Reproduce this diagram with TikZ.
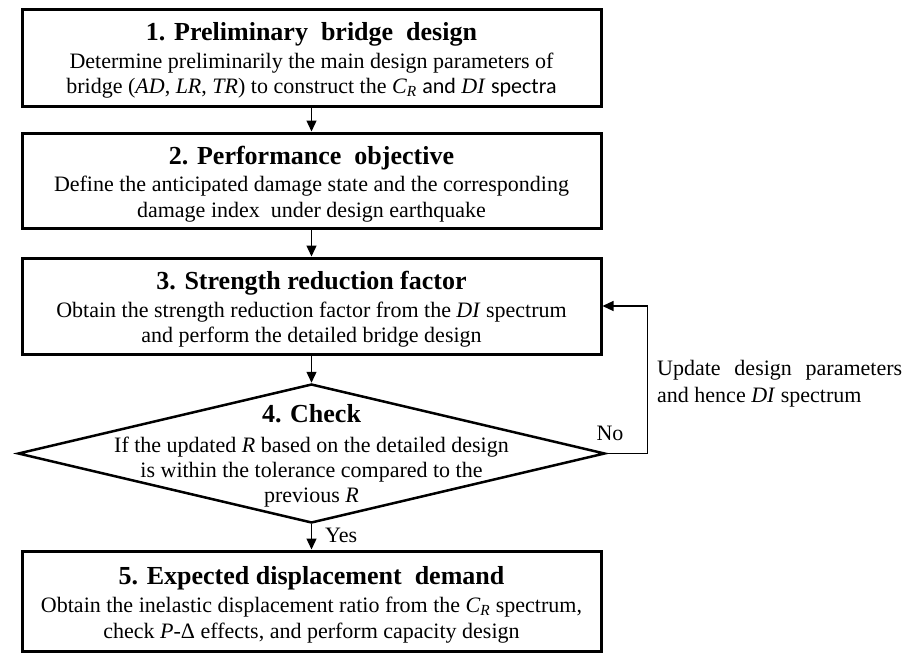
\documentclass[tikz,border=0pt]{standalone}
\usepackage{fontspec}
\setmainfont{Liberation Serif}
\newfontfamily\calfont{Carlito}
\usetikzlibrary{shapes.geometric,arrows.meta,calc}
\newcommand{\vi}[1]{\textit{#1}}
\newcommand{\CR}{\textit{C}\textsubscript{\textit{R}}}
\begin{document}
\begin{tikzpicture}[x=1pt,y=-1pt,
  box/.style={draw, line width=3pt, minimum width=579pt, inner sep=0pt},
  ttl/.style={anchor=base, font=\fontsize{26}{30}\selectfont\bfseries, inner sep=0pt},
  txt/.style={anchor=base, font=\fontsize{22}{26}\selectfont, inner sep=0pt},
  arr/.style={line width=1.3pt, -{Triangle[length=11pt,width=10pt]}},
  fbarr/.style={line width=1.2pt, -{Triangle[length=11pt,width=10pt]}}]
\useasboundingbox (0,0) rectangle (907,653);

% boxes
\node[box, minimum height=97pt] (b1) at (311.5,57.5) {};
\node[box, minimum height=95pt] (b2) at (311.5,180.5) {};
\node[box, minimum height=96pt] (b3) at (311.5,306) {};
\node[diamond, draw, line width=2.5pt, minimum width=587pt, minimum height=139pt, inner sep=0pt] (d4) at (311.5,453.5) {};
\node[box, minimum height=100pt] (b5) at (311.5,601) {};

% box 1 text
\node[ttl] (t1) at (311.5,40) {1. Preliminary\ \ bridge\ \ design};
\node[txt] (t1a) at (311.5,68) {Determine preliminarily the main design parameters of};
\node[txt] (t1b) at (311.5,93) {bridge (\vi{AD}, \vi{LR}, \vi{TR}) to construct the \CR\ {\calfont and} \vi{DI} {\calfont spectra}};

% box 2 text
\node[ttl] (t2) at (311.5,164) {2. Performance\ \ objective};
\node[txt] (t2a) at (311.5,191) {Define the anticipated damage state and the corresponding};
\node[txt] (t2b) at (311.5,217) {damage index\ \ under design earthquake};

% box 3 text
\node[ttl] (t3) at (311.5,289) {3. Strength reduction factor};
\node[txt] (t3a) at (311.5,317) {Obtain the strength reduction factor from the \vi{DI} spectrum};
\node[txt] (t3b) at (311.5,342) {and perform the detailed bridge design};

% diamond text
\node[ttl] (t4) at (311.5,422) {4. Check};
\node[txt] (t4a) at (311.5,452) {If the updated \vi{R} based on the detailed design};
\node[txt] (t4b) at (311.5,477) {is within the tolerance compared to the};
\node[txt] (t4c) at (311.5,502) {previous \vi{R}};

% box 5 text
\node[ttl] (t5) at (311.5,584) {5. Expected displacement\ \ demand};
\node[txt] (t5a) at (311.5,612) {Obtain the inelastic displacement ratio from the \CR\ spectrum,};
\node[txt] (t5b) at (311.5,638) {check \vi{P}-Δ effects, and perform capacity design};

% connectors
\draw[arr] (b1.south) -- (b2.north);
\draw[arr] (b2.south) -- (b3.north);
\draw[arr] (b3.south) -- (d4.north);
\draw[arr] (d4.south) -- (b5.north);
\draw[fbarr] (d4.east) -| ($(b3.east)+(45,0)$) -- (b3.east);

% labels
\node[txt] (no) at (610,440) {No};
\node[txt, anchor=base west] (yes) at (325,542) {Yes};
\node[txt, anchor=base west] (up1) at (657,375) {\makebox[245pt][s]{Update design parameters}};
\node[txt, anchor=base west] (up2) at (657,402) {and hence \vi{DI} spectrum};
\end{tikzpicture}
\end{document}
